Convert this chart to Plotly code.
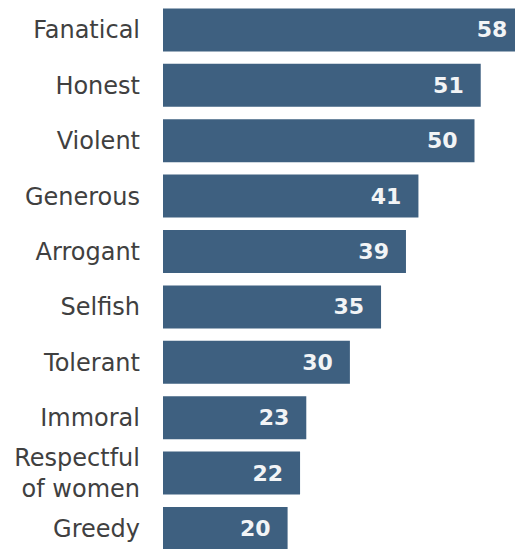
import plotly.graph_objects as go

categories = ["Fanatical", "Honest", "Violent", "Generous", "Arrogant",
              "Selfish", "Tolerant", "Immoral", "Respectful<br>of women", "Greedy"]
values = [58, 51, 50, 41, 39, 35, 30, 23, 22, 20]

bar_color = "#3e6080"
pad = "\u00a0\u00a0"

fig = go.Figure()
fig.add_trace(go.Bar(
    x=values, y=categories, orientation="h",
    marker=dict(color=bar_color, line=dict(width=0)),
    text=[f"<b>{v}</b>{pad}" for v in values],
    textposition="inside", insidetextanchor="end",
    insidetextfont=dict(family="DejaVu Sans", size=22, color="#f2f4f6"),
    hoverinfo="skip",
))

fig.update_layout(
    width=515, height=549,
    margin=dict(l=163, r=0, t=0, b=0),
    plot_bgcolor="white", paper_bgcolor="white",
    bargap=0.224,
    showlegend=False,
    xaxis=dict(range=[0, 56.5], visible=False, fixedrange=True),
    yaxis=dict(
        range=[9.37, -0.54], type="category", fixedrange=True,
        showgrid=False, zeroline=False, showline=False,
        ticks="", ticklabelstandoff=22, automargin=False,
        tickfont=dict(family="DejaVu Sans", size=24, color="#404040"),
    ),
)

fig.write_html(
    "out.html",
    config={"displayModeBar": False, "staticPlot": True},
    post_script="document.body.style.margin='0';document.body.style.overflow='hidden';",
)
